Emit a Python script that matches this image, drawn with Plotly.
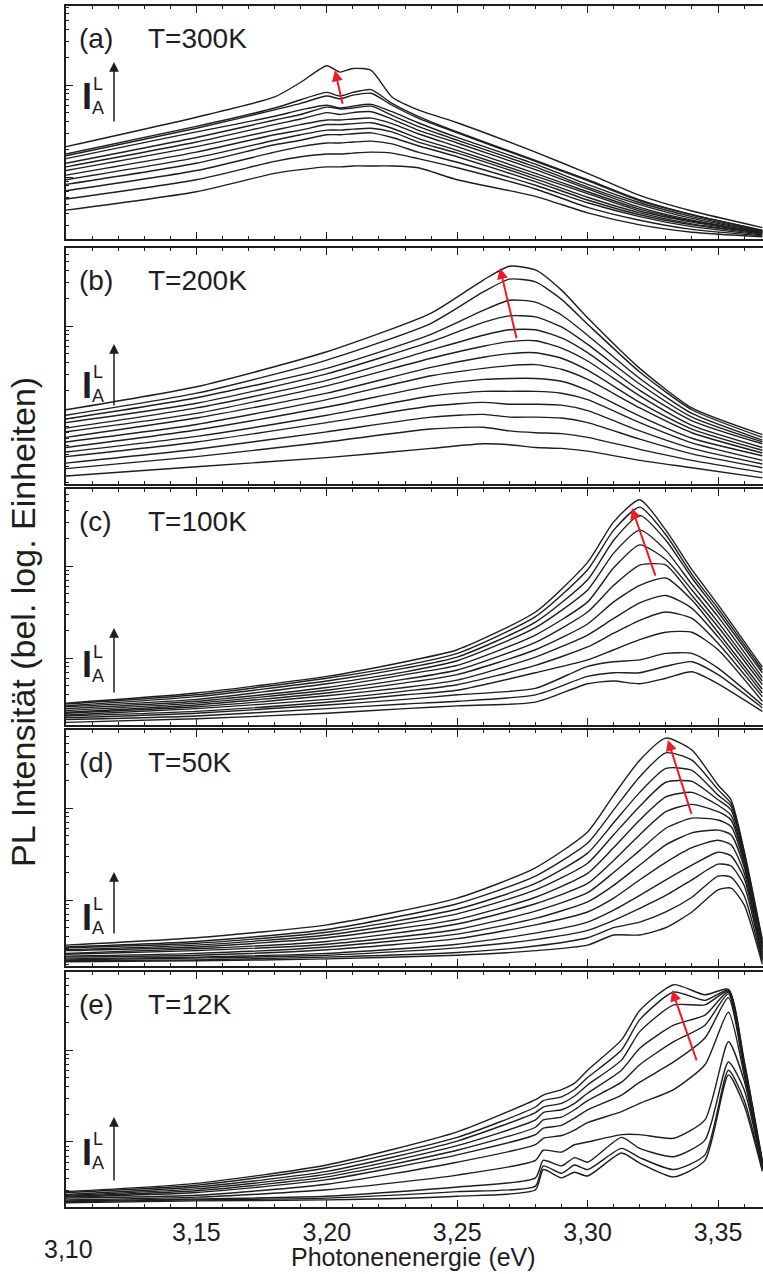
import numpy as np
import plotly.graph_objects as go

# ---------------- data (log10 intensity, arbitrary decades) ----------------
energy_a = [3.10, 3.15, 3.18, 3.19, 3.20, 3.205, 3.21, 3.217, 3.225, 3.235, 3.25, 3.28, 3.30, 3.32, 3.34, 3.367]
logI_a = [
    [0.33, 0.65, 0.87, 1.03, 1.21, 1.14, 1.18, 1.16, 0.87, 0.73, 0.59, 0.27, 0.04, -0.20, -0.37, -0.55],
    [0.25, 0.55, 0.75, 0.84, 0.92, 0.88, 0.92, 0.95, 0.80, 0.66, 0.49, 0.18, -0.03, -0.25, -0.41, -0.58],
    [0.23, 0.53, 0.73, 0.80, 0.88, 0.85, 0.89, 0.91, 0.78, 0.64, 0.48, 0.17, -0.04, -0.26, -0.41, -0.58],
    [0.20, 0.49, 0.66, 0.73, 0.78, 0.75, 0.77, 0.79, 0.71, 0.59, 0.43, 0.14, -0.08, -0.28, -0.43, -0.59],
    [0.15, 0.43, 0.62, 0.68, 0.76, 0.74, 0.75, 0.77, 0.67, 0.55, 0.40, 0.11, -0.11, -0.30, -0.45, -0.59],
    [0.11, 0.38, 0.57, 0.63, 0.70, 0.68, 0.70, 0.71, 0.63, 0.51, 0.37, 0.08, -0.13, -0.33, -0.47, -0.60],
    [0.07, 0.33, 0.51, 0.57, 0.62, 0.62, 0.63, 0.64, 0.58, 0.47, 0.33, 0.04, -0.16, -0.35, -0.48, -0.60],
    [0.02, 0.27, 0.46, 0.51, 0.57, 0.57, 0.58, 0.59, 0.53, 0.42, 0.29, 0.01, -0.18, -0.37, -0.49, -0.61],
    [-0.03, 0.21, 0.40, 0.46, 0.51, 0.51, 0.52, 0.53, 0.49, 0.38, 0.26, -0.02, -0.22, -0.39, -0.51, -0.61],
    [-0.08, 0.15, 0.35, 0.40, 0.46, 0.46, 0.47, 0.48, 0.43, 0.34, 0.22, -0.05, -0.25, -0.41, -0.52, -0.62],
    [-0.15, 0.07, 0.27, 0.33, 0.37, 0.37, 0.38, 0.39, 0.36, 0.27, 0.16, -0.09, -0.28, -0.43, -0.54, -0.63],
    [-0.24, -0.03, 0.17, 0.22, 0.25, 0.25, 0.26, 0.27, 0.26, 0.20, 0.10, -0.13, -0.33, -0.47, -0.57, -0.64],
    [-0.36, -0.16, 0.04, 0.08, 0.11, 0.11, 0.12, 0.12, 0.12, 0.10, -0.03, -0.21, -0.39, -0.52, -0.60, -0.65],
]

energy_b = [3.10, 3.15, 3.20, 3.24, 3.26, 3.27, 3.28, 3.29, 3.30, 3.32, 3.34, 3.367]
logI_b = [
    [0.09, 0.34, 0.72, 1.14, 1.50, 1.65, 1.61, 1.39, 1.09, 0.54, 0.11, -0.18],
    [0.03, 0.27, 0.63, 1.03, 1.37, 1.51, 1.48, 1.29, 1.02, 0.50, 0.09, -0.21],
    [-0.01, 0.22, 0.54, 0.91, 1.17, 1.28, 1.26, 1.12, 0.90, 0.43, 0.05, -0.24],
    [-0.05, 0.16, 0.48, 0.83, 1.04, 1.11, 1.10, 0.99, 0.80, 0.37, 0.01, -0.26],
    [-0.11, 0.11, 0.41, 0.74, 0.90, 0.96, 0.96, 0.87, 0.71, 0.30, -0.03, -0.28],
    [-0.15, 0.05, 0.35, 0.65, 0.78, 0.83, 0.84, 0.76, 0.62, 0.24, -0.08, -0.32],
    [-0.21, 0.00, 0.27, 0.55, 0.66, 0.70, 0.71, 0.65, 0.52, 0.17, -0.12, -0.35],
    [-0.26, -0.07, 0.20, 0.46, 0.54, 0.57, 0.58, 0.53, 0.42, 0.11, -0.16, -0.38],
    [-0.32, -0.13, 0.12, 0.35, 0.42, 0.43, 0.43, 0.40, 0.30, 0.02, -0.22, -0.41],
    [-0.37, -0.20, 0.03, 0.24, 0.29, 0.29, 0.29, 0.27, 0.20, -0.05, -0.27, -0.46],
    [-0.42, -0.26, -0.05, 0.13, 0.17, 0.15, 0.15, 0.14, 0.08, -0.14, -0.33, -0.50],
    [-0.49, -0.34, -0.15, 0.01, 0.04, 0.01, 0.01, 0.00, -0.05, -0.23, -0.39, -0.54],
    [-0.55, -0.42, -0.26, -0.12, -0.10, -0.14, -0.16, -0.17, -0.21, -0.34, -0.46, -0.59],
    [-0.63, -0.53, -0.43, -0.33, -0.28, -0.29, -0.32, -0.33, -0.36, -0.46, -0.54, -0.65],
]

energy_c = [3.10, 3.15, 3.20, 3.23, 3.25, 3.28, 3.30, 3.31, 3.32, 3.33, 3.34, 3.35, 3.367]
logI_c = [
    [-0.49, -0.38, -0.20, -0.04, 0.09, 0.50, 1.04, 1.48, 1.72, 1.39, 0.96, 0.58, -0.10],
    [-0.50, -0.40, -0.22, -0.08, 0.05, 0.45, 0.96, 1.39, 1.64, 1.34, 0.91, 0.54, -0.13],
    [-0.52, -0.42, -0.25, -0.11, 0.01, 0.39, 0.85, 1.28, 1.55, 1.28, 0.87, 0.50, -0.16],
    [-0.53, -0.45, -0.28, -0.15, -0.03, 0.33, 0.74, 1.14, 1.39, 1.17, 0.80, 0.45, -0.21],
    [-0.55, -0.47, -0.32, -0.18, -0.08, 0.25, 0.61, 0.98, 1.23, 1.07, 0.74, 0.39, -0.25],
    [-0.57, -0.49, -0.35, -0.23, -0.13, 0.17, 0.50, 0.79, 1.01, 1.01, 0.68, 0.34, -0.29],
    [-0.59, -0.51, -0.38, -0.27, -0.18, 0.09, 0.37, 0.61, 0.79, 0.87, 0.63, 0.28, -0.34],
    [-0.60, -0.53, -0.41, -0.32, -0.24, 0.01, 0.25, 0.43, 0.60, 0.68, 0.54, 0.23, -0.38],
    [-0.62, -0.55, -0.45, -0.36, -0.29, -0.08, 0.12, 0.27, 0.41, 0.50, 0.43, 0.16, -0.42],
    [-0.63, -0.58, -0.48, -0.40, -0.35, -0.16, -0.02, 0.09, 0.20, 0.28, 0.28, 0.09, -0.47],
    [-0.65, -0.60, -0.51, -0.45, -0.40, -0.33, -0.09, -0.04, -0.02, 0.05, 0.05, -0.11, -0.51],
    [-0.67, -0.63, -0.55, -0.50, -0.47, -0.40, -0.20, -0.16, -0.16, -0.09, -0.04, -0.18, -0.54],
    [-0.70, -0.66, -0.60, -0.55, -0.52, -0.48, -0.28, -0.25, -0.28, -0.22, -0.15, -0.28, -0.58],
]

energy_d = [3.10, 3.15, 3.20, 3.25, 3.28, 3.30, 3.31, 3.32, 3.33, 3.34, 3.35, 3.355, 3.36, 3.367]
logI_d = [
    [-0.49, -0.41, -0.27, 0.02, 0.35, 0.74, 1.14, 1.52, 1.76, 1.63, 1.25, 1.09, 0.54, -0.43],
    [-0.51, -0.45, -0.32, -0.04, 0.26, 0.62, 0.98, 1.34, 1.60, 1.52, 1.20, 1.05, 0.52, -0.46],
    [-0.52, -0.47, -0.35, -0.10, 0.18, 0.51, 0.84, 1.17, 1.43, 1.41, 1.14, 1.02, 0.50, -0.48],
    [-0.54, -0.49, -0.38, -0.15, 0.11, 0.40, 0.71, 1.02, 1.28, 1.29, 1.09, 0.98, 0.48, -0.50],
    [-0.55, -0.51, -0.41, -0.21, 0.03, 0.29, 0.57, 0.87, 1.12, 1.17, 1.03, 0.92, 0.46, -0.52],
    [-0.58, -0.53, -0.45, -0.26, -0.04, 0.18, 0.43, 0.71, 0.96, 1.04, 0.96, 0.87, 0.43, -0.54],
    [-0.59, -0.55, -0.48, -0.32, -0.12, 0.08, 0.30, 0.54, 0.78, 0.89, 0.87, 0.80, 0.40, -0.57],
    [-0.61, -0.58, -0.51, -0.37, -0.20, -0.02, 0.16, 0.38, 0.60, 0.73, 0.76, 0.71, 0.36, -0.59],
    [-0.62, -0.60, -0.54, -0.42, -0.27, -0.13, 0.02, 0.22, 0.41, 0.57, 0.65, 0.60, 0.30, -0.61],
    [-0.64, -0.62, -0.58, -0.48, -0.36, -0.24, -0.11, 0.05, 0.22, 0.38, 0.52, 0.48, 0.24, -0.63],
    [-0.65, -0.63, -0.60, -0.52, -0.43, -0.33, -0.22, -0.09, 0.05, 0.22, 0.39, 0.37, 0.16, -0.65],
    [-0.66, -0.65, -0.62, -0.57, -0.50, -0.41, -0.30, -0.24, -0.13, 0.03, 0.26, 0.25, 0.05, -0.67],
    [-0.67, -0.66, -0.64, -0.60, -0.55, -0.49, -0.38, -0.38, -0.30, -0.13, 0.11, 0.13, -0.05, -0.70],
]

energy_e = [3.10, 3.15, 3.20, 3.25, 3.28, 3.283, 3.29, 3.295, 3.30, 3.313, 3.32, 3.333, 3.345, 3.354, 3.36, 3.367]
logI_e = [
    [-0.54, -0.45, -0.25, 0.11, 0.46, 0.51, 0.57, 0.64, 0.78, 1.11, 1.43, 1.71, 1.60, 1.66, 0.89, -0.20],
    [-0.55, -0.47, -0.28, 0.05, 0.38, 0.45, 0.49, 0.57, 0.70, 1.00, 1.33, 1.63, 1.54, 1.65, 0.87, -0.22],
    [-0.57, -0.49, -0.32, 0.01, 0.32, 0.38, 0.42, 0.50, 0.62, 0.89, 1.20, 1.49, 1.49, 1.64, 0.85, -0.23],
    [-0.58, -0.51, -0.35, -0.04, 0.24, 0.32, 0.35, 0.42, 0.53, 0.78, 1.02, 1.27, 1.38, 1.63, 0.83, -0.24],
    [-0.59, -0.53, -0.38, -0.09, 0.16, 0.24, 0.27, 0.35, 0.45, 0.65, 0.84, 1.09, 1.27, 1.61, 0.80, -0.25],
    [-0.60, -0.55, -0.41, -0.14, 0.08, 0.15, 0.18, 0.26, 0.35, 0.51, 0.65, 0.87, 1.13, 1.57, 0.78, -0.26],
    [-0.61, -0.58, -0.46, -0.22, -0.03, 0.04, 0.07, 0.13, 0.21, 0.33, 0.42, 0.57, 0.84, 1.41, 0.73, -0.27],
    [-0.63, -0.60, -0.52, -0.36, -0.20, -0.09, -0.11, -0.03, 0.00, 0.08, 0.08, 0.04, 0.24, 1.09, 0.67, -0.28],
    [-0.64, -0.62, -0.59, -0.49, -0.39, -0.20, -0.26, -0.17, -0.22, 0.05, -0.07, -0.16, 0.02, 0.87, 0.57, -0.29],
    [-0.65, -0.63, -0.61, -0.54, -0.48, -0.26, -0.34, -0.25, -0.30, -0.07, -0.17, -0.30, -0.14, 0.78, 0.46, -0.30],
    [-0.66, -0.64, -0.63, -0.59, -0.52, -0.30, -0.39, -0.33, -0.37, -0.12, -0.23, -0.38, -0.20, 0.73, 0.40, -0.32],
]

# red arrows: (E_tail, logI_tail, E_head, logI_head)
shift_arrows = [
    (3.2062, 0.78, 3.2031, 1.16),
    (3.2729, 0.85, 3.2664, 1.63),
    (3.3262, 0.88, 3.3170, 1.63),
    (3.3400, 0.92, 3.3308, 1.74),
    (3.3420, 0.87, 3.3324, 1.65),
]
panel_tags = ["(a)", "(b)", "(c)", "(d)", "(e)"]
temperatures = ["T=300K", "T=200K", "T=100K", "T=50K", "T=12K"]
tick_energies = [3.15, 3.20, 3.25, 3.30, 3.35]
tick_texts = ["3,15", "3,20", "3,25", "3,30", "3,35"]

# ---------------- layout geometry ----------------
W, H = 763, 1274
ML, MR, MT, MB = 66, 0, 6, 67
PW, PH = W - ML - MR, H - MT - MB
X_RANGE = [3.10, 3.10 + PW / 2608.0]
panel_px = [(6, 239), (248, 484), (489, 725), (730, 966), (972, 1207)]
y_ranges = [[-0.674, 1.859], [-0.717, 1.848], [-0.728, 1.837], [-0.717, 1.848], [-0.707, 1.848]]
label_I_center = [97, 385, 665, 917, 1152]
arrow_tip = [62, 344, 628, 872, 1117]
arrow_len = [61, 63, 66, 63, 65]

INK = "#1e1e1e"
RED = "#ed1c24"
FONT = "Liberation Sans, Arial, sans-serif"


def px2paper(px, py):
    return (px - ML) / PW, (H - MB - py) / PH


energies = [energy_a, energy_b, energy_c, energy_d, energy_e]
curves = [logI_a, logI_b, logI_c, logI_d, logI_e]

fig = go.Figure()
for k in range(5):
    ax = "x" if k == 0 else f"x{k+1}"
    ay = "y" if k == 0 else f"y{k+1}"
    for c in curves[k]:
        fig.add_trace(go.Scatter(
            x=energies[k], y=10 ** np.array(c), mode="lines",
            line=dict(color=INK, width=1.4, shape="spline", smoothing=0.6),
            xaxis=ax, yaxis=ay, showlegend=False, hoverinfo="skip"))

layout = dict(
    width=W, height=H, margin=dict(l=ML, r=MR, t=MT, b=MB, autoexpand=False),
    paper_bgcolor="white", plot_bgcolor="white",
    font=dict(family=FONT, color=INK), showlegend=False,
)
annotations = []
for k in range(5):
    top, bot = panel_px[k]
    dom = [(H - MB - bot) / PH, (H - MB - top) / PH]
    xs = "" if k == 0 else str(k + 1)
    xa = dict(
        domain=[0, 1], range=X_RANGE, anchor="y" + xs, automargin=False,
        showline=True, linecolor=INK, linewidth=1.5, mirror="ticks",
        ticks="inside", ticklen=7, tickwidth=1.2, tickcolor=INK,
        tickmode="array", tickvals=[3.10] + tick_energies,
        minor=dict(ticks="inside", ticklen=3.5, tickwidth=1.0, tickcolor=INK,
                   tickmode="linear", tick0=3.10, dtick=0.01),
        showgrid=False, zeroline=False, showticklabels=False,
    )
    if k == 4:
        xa.update(showticklabels=True, ticktext=[""] + tick_texts, ticklabelstandoff=2,
                  tickfont=dict(size=25, family=FONT, color=INK))
    layout["xaxis" + xs] = xa
    layout["yaxis" + xs] = dict(
        domain=dom, type="log", range=y_ranges[k], anchor="x" + xs, automargin=False,
        showline=True, linecolor=INK, linewidth=1.5, mirror=False,
        ticks="inside", ticklen=7, tickwidth=1.2, tickcolor=INK, dtick=1,
        minor=dict(ticks="inside", ticklen=3.5, tickwidth=1.0, tickcolor=INK, dtick="D1"),
        showgrid=False, zeroline=False, showticklabels=False,
    )
    # right-hand ticks (frame lies just outside the visible area)
    layout[f"yaxis{k+6}"] = dict(
        domain=dom, type="log", range=y_ranges[k], overlaying="y" + xs, side="right",
        anchor="x" + xs, ticks="inside", ticklen=3, tickwidth=1.2, tickcolor=INK,
        dtick=1, showline=False, showgrid=False, zeroline=False, showticklabels=False,
        automargin=False,
    )

    # panel label and temperature
    for txt, px in ((panel_tags[k], 77), (temperatures[k], 146)):
        xp, yp = px2paper(px, top + 32)
        annotations.append(dict(text=txt, x=xp, y=yp, xref="paper", yref="paper",
                                xanchor="left", yanchor="middle", showarrow=False,
                                font=dict(size=28, family=FONT, color=INK)))
    # I_A^L label
    cy = label_I_center[k]
    xp, yp = px2paper(87, cy)
    annotations.append(dict(text="<b>I</b>", x=xp, y=yp, xref="paper", yref="paper",
                            xanchor="center", yanchor="middle", showarrow=False,
                            font=dict(size=36, family=FONT, color=INK)))
    xp, yp = px2paper(98, cy - 13)
    annotations.append(dict(text="L", x=xp, y=yp, xref="paper", yref="paper",
                            xanchor="center", yanchor="middle", showarrow=False,
                            font=dict(size=18, family=FONT, color=INK)))
    xp, yp = px2paper(98, cy + 11)
    annotations.append(dict(text="A", x=xp, y=yp, xref="paper", yref="paper",
                            xanchor="center", yanchor="middle", showarrow=False,
                            font=dict(size=18, family=FONT, color=INK)))
    xp, yp = px2paper(114, arrow_tip[k])
    annotations.append(dict(text="", x=xp, y=yp, xref="paper", yref="paper",
                            showarrow=True, ax=0, ay=arrow_len[k], arrowhead=2,
                            arrowsize=1.3, arrowwidth=1.5, arrowcolor=INK, standoff=0))
    # red shift arrow
    et, lt, eh, lh = shift_arrows[k]
    annotations.append(dict(text="", x=eh, y=lh, ax=et, ay=lt,
                            xref="x" + xs, yref="y" + xs, axref="x" + xs, ayref="y" + xs,
                            showarrow=True, arrowhead=2, arrowsize=1.1, arrowwidth=2,
                            arrowcolor=RED, standoff=0))

# "3,10" label sits lower than the others in the original
xp, yp = px2paper(68, 1249)
annotations.append(dict(text="3,10", x=xp, y=yp, xref="paper", yref="paper",
                        xanchor="center", yanchor="middle", showarrow=False,
                        font=dict(size=25, family=FONT, color=INK)))
# axis titles
xp, yp = px2paper(413, 1257)
annotations.append(dict(text="Photonenenergie (eV)", x=xp, y=yp, xref="paper", yref="paper",
                        xanchor="center", yanchor="middle", showarrow=False,
                        font=dict(size=25, family=FONT, color=INK)))
xp, yp = px2paper(23, 622)
annotations.append(dict(text="PL Intensität (bel. log. Einheiten)", x=xp, y=yp,
                        xref="paper", yref="paper", textangle=-90,
                        xanchor="center", yanchor="middle", showarrow=False,
                        font=dict(size=34, family=FONT, color=INK)))
layout["annotations"] = annotations
fig.update_layout(**layout)
fig.write_html(
    "out.html",
    config={"displayModeBar": False},
    post_script="document.body.style.margin='0';document.body.style.overflow='hidden';"
                "document.documentElement.style.overflow='hidden';",
)
